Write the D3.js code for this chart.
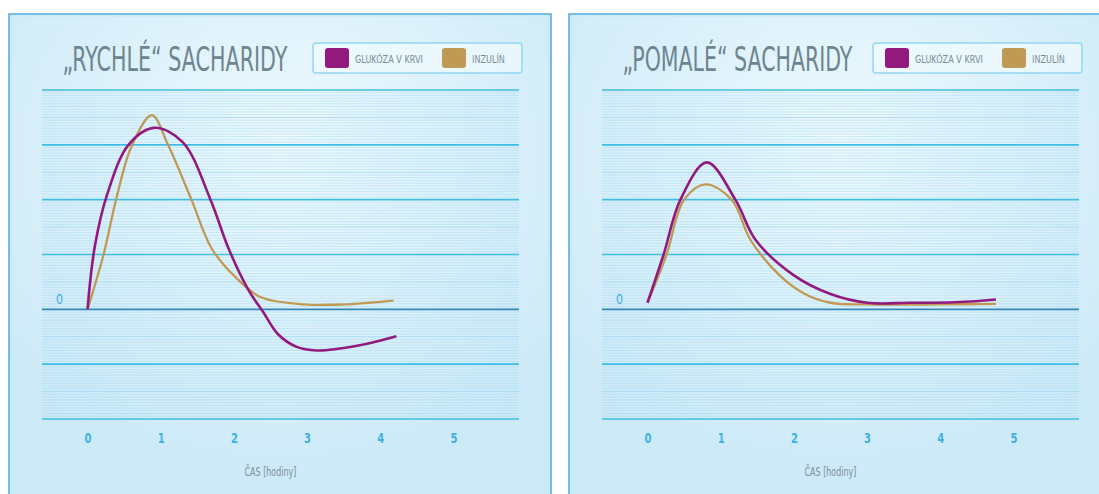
<!DOCTYPE html>
<html>
<head>
<meta charset="utf-8">
<script src="https://cdn.jsdelivr.net/npm/d3@7"></script>
<style>
  body { margin: 0; background: #fff; }
  svg { display: block; }
  .narrow { font-family: "Liberation Sans Narrow", "DejaVu Sans Condensed", "Roboto Condensed", sans-serif; }
</style>
</head>
<body>
<svg id="chart" width="1099" height="494"></svg>
<script>
// panel titles + legend labels
const panelTitles = ["„RYCHLÉ“ SACHARIDY", "„POMALÉ“ SACHARIDY"];
const legendLabels = ["GLUKÓZA V KRVI", "INZULÍN"];
const seriesColors = ["#921a7f", "#c09a52"];

// axis values
const hourTicks = [0, 1, 2, 3, 4, 5];
const gridLevels = [-2, -1, 0, 1, 2, 3, 4];

// curves: [hours, level]
const fastGlucose = [[0, 0], [0.1, 1.15], [0.27, 2.1], [0.56, 3], [0.91, 3.31], [1.3, 3.05], [1.68, 2], [1.93, 1.1],
  [2.2, 0.35], [2.4, -0.05], [2.6, -0.45], [2.85, -0.68], [3.13, -0.75], [3.7, -0.66], [4.22, -0.49]];
const fastInsulin = [[0, 0], [0.22, 1], [0.39, 2], [0.61, 3], [0.88, 3.54], [1.1, 3], [1.42, 2], [1.7, 1.1],
  [2.05, 0.55], [2.37, 0.22], [2.96, 0.09], [3.5, 0.09], [4.18, 0.16]];
const slowGlucose = [[0, 0.12], [0.22, 1], [0.45, 2], [0.81, 2.68], [1.2, 2], [1.48, 1.26], [2.0, 0.62],
  [2.5, 0.28], [3.0, 0.12], [3.6, 0.12], [4.2, 0.13], [4.76, 0.18]];
const slowInsulin = [[0, 0.12], [0.26, 1], [0.5, 2], [0.79, 2.28], [1.15, 2], [1.41, 1.26], [1.82, 0.6],
  [2.15, 0.28], [2.5, 0.12], [3, 0.09], [4, 0.09], [4.76, 0.1]];

const panelSeries = [[fastGlucose, fastInsulin], [slowGlucose, slowInsulin]];

const PANEL_SHIFT = 560;
const PLOT_LEFT = 42, PLOT_RIGHT = 519;

const svg = d3.select('#chart');
const defs = svg.append('defs');

// soft light spot in the panel background
const grad = defs.append('radialGradient')
  .attr('id', 'panelBg')
  .attr('cx', '50%').attr('cy', '28%').attr('r', '65%');
grad.append('stop').attr('offset', '0%').attr('stop-color', '#eef9fe');
grad.append('stop').attr('offset', '100%').attr('stop-color', '#cdeaf8');

let x = d3.scaleLinear().domain([0, 5]).range([87.5, 453.5]);
let y = d3.scaleLinear().domain([-2, 4]).range([419, 90]);

let line = d3.line()
  .x(d => x(d[0]))
  .y(d => y(d[1]))
  .curve(d3.curveCatmullRom.alpha(0.5));

// condensed-looking text: squeeze horizontally to the wanted width
function narrowText(parent, tx, ty, str, size, width, color, anchor) {
  let t = parent.append('g')
    .append('text')
    .attr('class', 'narrow')
    .attr('font-size', size)
    .attr('fill', color)
    .text(str);
  let w = t.node().getComputedTextLength();
  let sx = width / w;
  let left = anchor == 'middle' ? tx - width / 2 : tx;
  d3.select(t.node().parentNode).attr('transform', `translate(${left},${ty}) scale(${sx},1)`);
  return t;
}

panelTitles.forEach((title, p) => {
  let g = svg.append('g').attr('transform', `translate(${p * PANEL_SHIFT},0)`);

  // panel background and border
  g.append('rect')
    .attr('x', 9).attr('y', 14)
    .attr('width', 542).attr('height', 500)
    .attr('fill', 'url(#panelBg)')
    .attr('stroke', '#5aaedb')
    .attr('stroke-width', 1.6);
  g.append('rect')
    .attr('x', 11).attr('y', 16)
    .attr('width', 538).attr('height', 500)
    .attr('fill', 'none')
    .attr('stroke', '#c4e9f8')
    .attr('stroke-width', 1);

  // thin stripes between the main grid lines
  let stripes = [];
  for (let i = 0; i < gridLevels.length - 1; i++) {
    for (let k = 1; k < 20; k++) stripes.push({ v: gridLevels[i] + k / 20, half: k == 10 });
  }
  g.append('g')
    .selectAll('line')
    .data(stripes)
    .join('line')
    .attr('x1', PLOT_LEFT).attr('x2', PLOT_RIGHT)
    .attr('y1', d => y(d.v)).attr('y2', d => y(d.v))
    .attr('stroke', '#9ed8f1')
    .attr('stroke-opacity', d => d.half ? 0.9 : 0.45)
    .attr('stroke-width', 1);

  // main grid lines, zero line darker
  g.append('g')
    .selectAll('line')
    .data(gridLevels)
    .join('line')
    .attr('x1', PLOT_LEFT).attr('x2', PLOT_RIGHT)
    .attr('y1', d => y(d)).attr('y2', d => y(d))
    .attr('stroke', d => d == 0 ? '#2f86b9' : '#3cbde6')
    .attr('stroke-width', 1.6);

  // "0" label above the zero line
  narrowText(g, 56, y(0) - 5, '0', 14, 7, '#3aaee0');

  // x axis labels
  let xAxis = g.append('g')
    .attr('transform', `translate(0,${443})`)
    .call(d3.axisBottom(x).tickValues(hourTicks).tickSize(0).tickPadding(0).tickFormat(d3.format('d')));
  xAxis.select('.domain').remove();
  xAxis.selectAll('text')
    .attr('class', 'narrow')
    .attr('dy', 0)
    .attr('font-size', 14)
    .attr('font-weight', 'bold')
    .attr('transform', 'scale(0.8,1)')
    .attr('fill', '#3fb1e2');

  narrowText(g, 270.5, 476, 'ČAS [hodiny]', 12, 52, '#7d8f98', 'middle');

  // title
  narrowText(g, 62.5, 71, title, 33, p == 0 ? 225 : 230, '#6d8590');

  // legend
  g.append('rect')
    .attr('x', 313).attr('y', 43)
    .attr('width', 209).attr('height', 30)
    .attr('rx', 3)
    .attr('fill', '#eef9fd')
    .attr('fill-opacity', 0.8)
    .attr('stroke', '#93d6f1')
    .attr('stroke-width', 1.5);
  let legendX = [325, 442];
  let legendW = [68, 33];
  legendLabels.forEach((lab, i) => {
    g.append('rect')
      .attr('x', legendX[i]).attr('y', 48)
      .attr('width', 24).attr('height', 20)
      .attr('rx', 3)
      .attr('fill', seriesColors[i]);
    narrowText(g, legendX[i] + 30, 63, lab, 11, legendW[i], '#7a8c95');
  });

  // the two curves
  g.append('g')
    .selectAll('path')
    .data(panelSeries[p].slice().reverse())
    .join('path')
    .attr('d', d => line(d))
    .attr('fill', 'none')
    .attr('stroke', (d, i) => seriesColors[1 - i])
    .attr('stroke-width', (d, i) => i == 0 ? 2.3 : 2.6)
    .attr('stroke-linejoin', 'round');
});
</script>
</body>
</html>
